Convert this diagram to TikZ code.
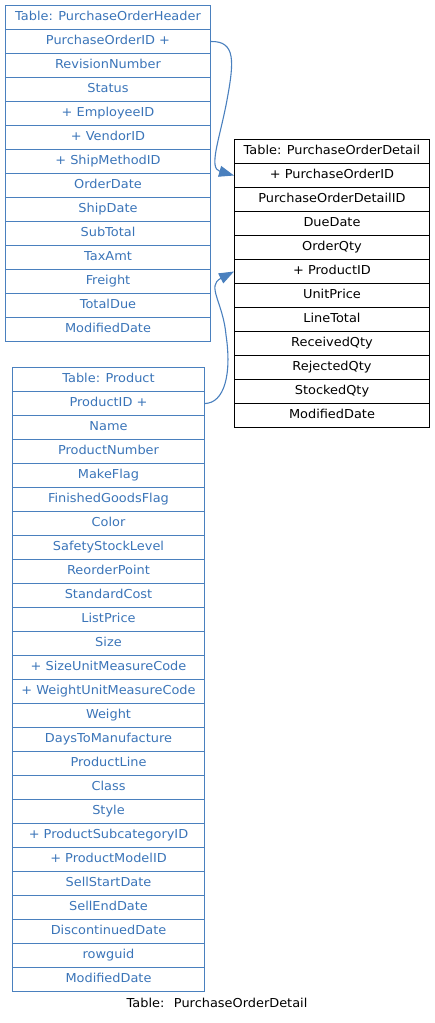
\documentclass[tikz,border=0pt]{standalone}
\usepackage{fontspec}
\setmainfont[FakeStretch=1.05]{DejaVu Sans}
\usetikzlibrary{arrows.meta}
\definecolor{tblue}{RGB}{58,116,184}
\definecolor{tline}{RGB}{74,128,190}
\begin{document}
\begin{tikzpicture}[x=1pt,y=-1pt,
  cell/.style={draw, rectangle, minimum height=24pt, inner sep=0pt, anchor=north west,
    text height=9pt, text depth=2.6pt,
    font=\fontsize{12.3}{14}\selectfont, line width=1pt},
  bluecell/.style={cell, draw=tline, text=tblue},
  blackcell/.style={cell, draw=black, text=black},
  conn/.style={draw=tline, line width=1.1pt, -{Triangle[length=15pt,width=11pt]}}]
\useasboundingbox (0,0) rectangle (435,1023);
\foreach \t [count=\i from 0] in {Table: PurchaseOrderHeader, PurchaseOrderID +, RevisionNumber, Status, + EmployeeID, + VendorID, + ShipMethodID, OrderDate, ShipDate, SubTotal, TaxAmt, Freight, TotalDue, ModifiedDate}
  \node[bluecell, minimum width=205pt] (h\i) at (5,{5+24*\i}) {\t};
\foreach \t [count=\i from 0] in {Table: PurchaseOrderDetail, + PurchaseOrderID, PurchaseOrderDetailID, DueDate, OrderQty, + ProductID, UnitPrice, LineTotal, ReceivedQty, RejectedQty, StockedQty, ModifiedDate}
  \node[blackcell, minimum width=195pt] (d\i) at (234,{139+24*\i}) {\t};
\foreach \t [count=\i from 0] in {Table: Product, ProductID +, Name, ProductNumber, MakeFlag, FinishedGoodsFlag, Color, SafetyStockLevel, ReorderPoint, StandardCost, ListPrice, Size, + SizeUnitMeasureCode, + WeightUnitMeasureCode, Weight, DaysToManufacture, ProductLine, Class, Style, + ProductSubcategoryID, + ProductModelID, SellStartDate, SellEndDate, DiscontinuedDate, rowguid, ModifiedDate}
  \node[bluecell, minimum width=192pt] (p\i) at (12,{367+24*\i}) {\t};
\draw[conn] (h1.east) .. controls (236,41) and (234,62) .. (227,100) .. controls (220,138) and (208,168) .. (d1.west);
\draw[conn] (p1.east) .. controls (224,403) and (232,375) .. (226,335) .. controls (223,302) and (206,286) .. (d5.west);
\node[font=\fontsize{12.3}{14}\selectfont] (cap) at (217,1003) {Table:~ PurchaseOrderDetail};
\end{tikzpicture}
\end{document}
